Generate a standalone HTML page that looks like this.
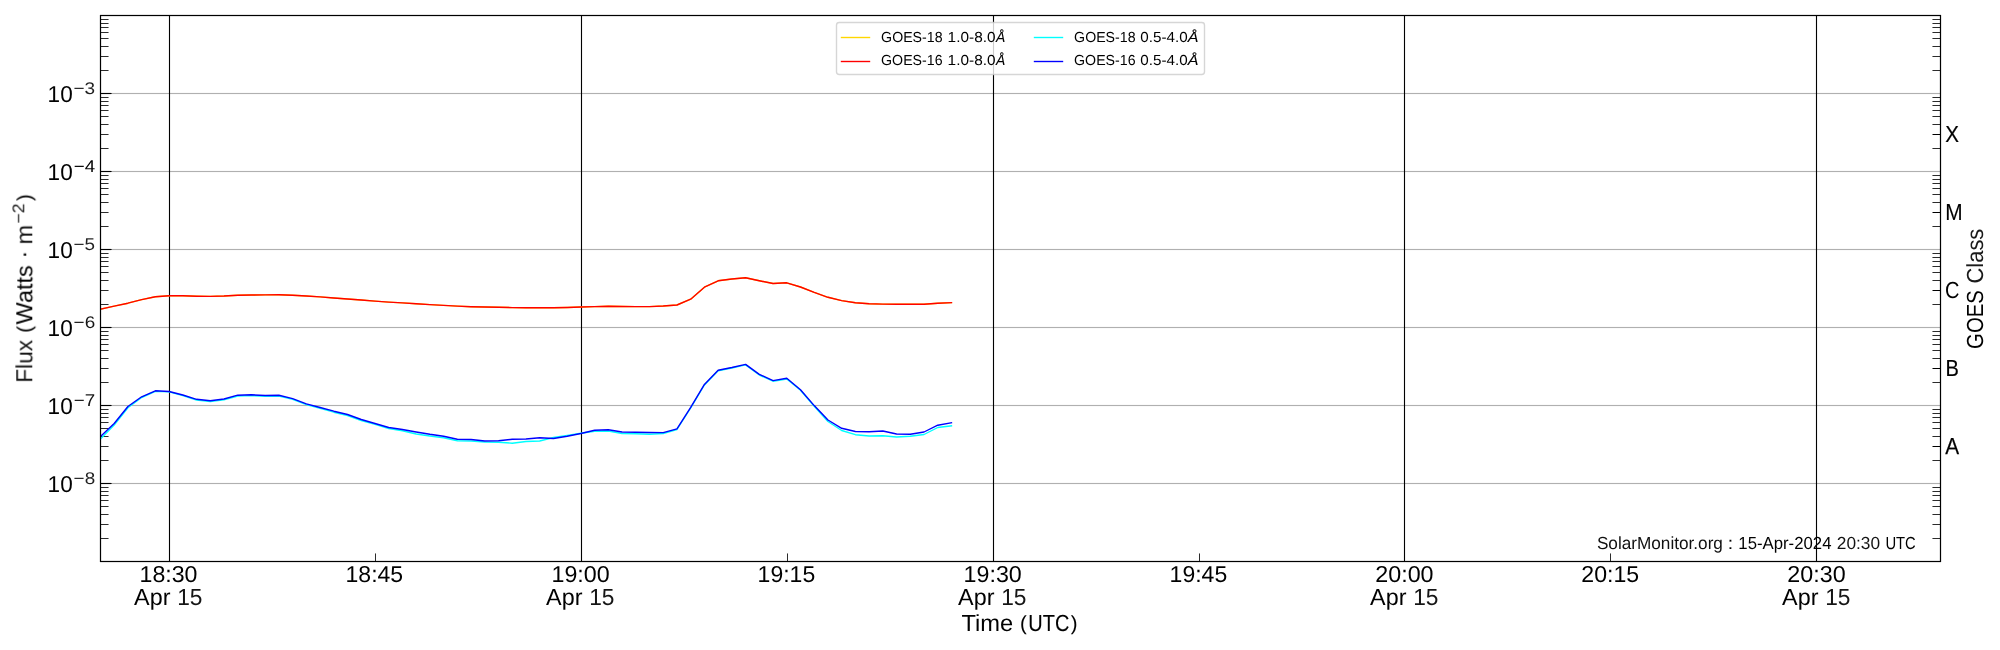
<!DOCTYPE html>
<html lang="en">
<head>
<meta charset="utf-8">
<title>GOES X-ray Flux</title>
<style>
html,body{margin:0;padding:0;background:#fff;}
body{width:2000px;height:650px;overflow:hidden;}
svg{display:block;}
text{font-family:"Liberation Sans",sans-serif;fill:#000;white-space:pre;text-rendering:geometricPrecision;}
.it{font-style:italic;}
</style>
</head>
<body>
<svg width="2000" height="650" viewBox="0 0 2000 650">
<rect x="0" y="0" width="2000" height="650" fill="#fff"/>
<g stroke="#b0b0b0" stroke-width="1.11" fill="none">
<path d="M100 93.5H1941"/>
<path d="M100 171.5H1941"/>
<path d="M100 249.5H1941"/>
<path d="M100 327.5H1941"/>
<path d="M100 405.5H1941"/>
<path d="M100 483.5H1941"/>
</g>
<g fill="#b0b0b0" fill-opacity="0.063">
<rect x="100" y="92" width="1841" height="1"/><rect x="100" y="94" width="1841" height="1"/>
<rect x="100" y="170" width="1841" height="1"/><rect x="100" y="172" width="1841" height="1"/>
<rect x="100" y="248" width="1841" height="1"/><rect x="100" y="250" width="1841" height="1"/>
<rect x="100" y="326" width="1841" height="1"/><rect x="100" y="328" width="1841" height="1"/>
<rect x="100" y="404" width="1841" height="1"/><rect x="100" y="406" width="1841" height="1"/>
<rect x="100" y="482" width="1841" height="1"/><rect x="100" y="484" width="1841" height="1"/>
</g>
<g stroke="#000" stroke-width="1.11" fill="none">
<path d="M169.5 15V562"/>
<path d="M581.5 15V562"/>
<path d="M993.5 15V562"/>
<path d="M1404.5 15V562"/>
<path d="M1816.5 15V562"/>
</g>
<g stroke="#000" stroke-width="1.11" fill="none">
<path d="M100.5 93.5H111.55"/>
<path d="M100.5 171.5H111.55"/>
<path d="M100.5 249.5H111.55"/>
<path d="M100.5 327.5H111.55"/>
<path d="M100.5 405.5H111.55"/>
<path d="M100.5 483.5H111.55"/>
</g>
<g stroke="#000" stroke-width="0.83" fill="none">
<path d="M100.5 538.5H108.55M1932.45 538.5H1940.5M100.5 524.5H108.55M1932.45 524.5H1940.5M100.5 514.5H108.55M1932.45 514.5H1940.5M100.5 506.5H108.55M1932.45 506.5H1940.5M100.5 500.5H108.55M1932.45 500.5H1940.5M100.5 495.5H108.55M1932.45 495.5H1940.5M100.5 491.5H108.55M1932.45 491.5H1940.5M100.5 487.5H108.55M1932.45 487.5H1940.5M100.5 460.5H108.55M1932.45 460.5H1940.5M100.5 446.5H108.55M100.5 436.5H108.55M1932.45 436.5H1940.5M100.5 428.5H108.55M1932.45 428.5H1940.5M100.5 422.5H108.55M1932.45 422.5H1940.5M100.5 417.5H108.55M1932.45 417.5H1940.5M100.5 413.5H108.55M1932.45 413.5H1940.5M100.5 409.5H108.55M1932.45 409.5H1940.5M100.5 382.5H108.55M1932.45 382.5H1940.5M100.5 368.5H108.55M100.5 358.5H108.55M1932.45 358.5H1940.5M100.5 350.5H108.55M1932.45 350.5H1940.5M100.5 344.5H108.55M1932.45 344.5H1940.5M100.5 339.5H108.55M1932.45 339.5H1940.5M100.5 335.5H108.55M1932.45 335.5H1940.5M100.5 331.5H108.55M1932.45 331.5H1940.5M100.5 304.5H108.55M1932.45 304.5H1940.5M100.5 290.5H108.55M100.5 280.5H108.55M1932.45 280.5H1940.5M100.5 272.5H108.55M1932.45 272.5H1940.5M100.5 266.5H108.55M1932.45 266.5H1940.5M100.5 261.5H108.55M1932.45 261.5H1940.5M100.5 257.5H108.55M1932.45 257.5H1940.5M100.5 253.5H108.55M1932.45 253.5H1940.5M100.5 226.5H108.55M1932.45 226.5H1940.5M100.5 212.5H108.55M100.5 202.5H108.55M1932.45 202.5H1940.5M100.5 194.5H108.55M1932.45 194.5H1940.5M100.5 188.5H108.55M1932.45 188.5H1940.5M100.5 183.5H108.55M1932.45 183.5H1940.5M100.5 179.5H108.55M1932.45 179.5H1940.5M100.5 175.5H108.55M1932.45 175.5H1940.5M100.5 148.5H108.55M1932.45 148.5H1940.5M100.5 134.5H108.55M100.5 124.5H108.55M1932.45 124.5H1940.5M100.5 116.5H108.55M1932.45 116.5H1940.5M100.5 110.5H108.55M1932.45 110.5H1940.5M100.5 105.5H108.55M1932.45 105.5H1940.5M100.5 101.5H108.55M1932.45 101.5H1940.5M100.5 97.5H108.55M1932.45 97.5H1940.5M100.5 70.5H108.55M1932.45 70.5H1940.5M100.5 56.5H108.55M1932.45 56.5H1940.5M100.5 46.5H108.55M1932.45 46.5H1940.5M100.5 38.5H108.55M1932.45 38.5H1940.5M100.5 32.5H108.55M1932.45 32.5H1940.5M100.5 27.5H108.55M1932.45 27.5H1940.5M100.5 23.5H108.55M1932.45 23.5H1940.5M100.5 19.5H108.55M1932.45 19.5H1940.5"/>
<path d="M375.5 553.45V561.5M787.5 553.45V561.5M1199.5 553.45V561.5M1610.5 553.45V561.5"/>
</g>
<g stroke="#000" stroke-width="1.11" fill="none">
<path d="M1932.5 446.5H1940.5M1932.5 368.5H1940.5M1932.5 290.5H1940.5M1932.5 212.5H1940.5M1932.5 134.5H1940.5"/>
</g>
<clipPath id="axclip"><rect x="100" y="15.25" width="1840" height="546"/></clipPath>
<g clip-path="url(#axclip)" fill="none" stroke-width="1.39" stroke-linejoin="round" stroke-linecap="square">
<path stroke="#ffd700" d="M100.46 309.1L114.18 306.1L127.91 303.2L141.64 299.6L155.36 296.8L169.09 295.7L182.81 295.8L196.54 296.2L210.27 296.4L223.99 296L237.72 295.2L251.45 295L265.17 294.9L278.9 294.7L292.62 295.2L306.35 296L320.08 296.9L333.8 298L347.53 299L361.26 300L374.98 301.1L388.71 302.1L402.43 302.9L416.16 303.7L429.89 304.6L443.61 305.4L457.34 306.1L471.07 306.7L484.79 307L498.52 307.3L512.24 307.6L525.97 307.7L539.7 307.7L553.42 307.7L567.15 307.5L580.88 307L594.6 306.6L608.33 306.3L622.05 306.5L635.78 306.6L649.51 306.6L663.23 306L676.96 305L690.69 299.2L704.41 287.2L718.14 280.8L731.86 279L745.59 277.8L759.32 280.8L773.04 283.5L786.77 282.8L800.49 287L814.22 292.4L827.95 297.3L841.67 300.6L855.4 302.7L869.13 303.7L882.85 304.1L896.58 304.3L910.3 304.3L924.03 304.3L937.76 303.3L951.48 302.7"/>
<path stroke="#ff0000" d="M100.46 309.1L114.18 306.1L127.91 303.2L141.64 299.6L155.36 296.8L169.09 295.7L182.81 295.8L196.54 296.2L210.27 296.4L223.99 296L237.72 295.2L251.45 295L265.17 294.9L278.9 294.7L292.62 295.2L306.35 296L320.08 296.9L333.8 298L347.53 299L361.26 300L374.98 301.1L388.71 302.1L402.43 302.9L416.16 303.7L429.89 304.6L443.61 305.4L457.34 306.1L471.07 306.7L484.79 307L498.52 307.3L512.24 307.6L525.97 307.7L539.7 307.7L553.42 307.7L567.15 307.5L580.88 307L594.6 306.6L608.33 306.3L622.05 306.5L635.78 306.6L649.51 306.6L663.23 306L676.96 305L690.69 299.2L704.41 287.2L718.14 280.8L731.86 279L745.59 277.8L759.32 280.8L773.04 283.5L786.77 282.8L800.49 287L814.22 292.4L827.95 297.3L841.67 300.6L855.4 302.7L869.13 303.7L882.85 304.1L896.58 304.3L910.3 304.3L924.03 304.3L937.76 303.3L951.48 302.7"/>
<path stroke="#00ffff" d="M100.46 439L114.18 425L127.91 407.8L141.64 397.5L155.36 391.4L169.09 391.9L182.81 395.6L196.54 400L210.27 401.5L223.99 399.8L237.72 396L251.45 395.6L265.17 396.3L278.9 396.1L292.62 399.4L306.35 404.6L320.08 408.3L333.8 412.2L347.53 415.5L361.26 420.5L374.98 424.3L388.71 428.5L402.43 430.8L416.16 434L429.89 436L443.61 437.8L457.34 440.8L471.07 441L484.79 442L498.52 442.2L512.24 443.2L525.97 441.5L539.7 441L553.42 437.5L567.15 435.5L580.88 433.3L594.6 431.2L608.33 431L622.05 433.5L635.78 433.8L649.51 434.2L663.23 433.5L676.96 429.5L690.69 408L704.41 385L718.14 370.8L731.86 368L745.59 364.9L759.32 375L773.04 381.2L786.77 379L800.49 390.3L814.22 406.3L827.95 421.5L841.67 430.5L855.4 434.7L869.13 436L882.85 435.8L896.58 437L910.3 436.2L924.03 434.5L937.76 427.5L951.48 425.8"/>
<path stroke="#0000ff" d="M100.46 436.5L114.18 423.5L127.91 406.5L141.64 396.8L155.36 390.8L169.09 391.5L182.81 395L196.54 399.3L210.27 400.7L223.99 399L237.72 395.2L251.45 394.8L265.17 395.5L278.9 395.3L292.62 398.6L306.35 403.8L320.08 407.5L333.8 411.2L347.53 414.5L361.26 419.5L374.98 423.5L388.71 427.5L402.43 429.5L416.16 432L429.89 434.3L443.61 436.2L457.34 439.2L471.07 439.5L484.79 441L498.52 440.8L512.24 439.3L525.97 439L539.7 437.8L553.42 438.5L567.15 436.3L580.88 433.5L594.6 430.3L608.33 429.8L622.05 432L635.78 432.2L649.51 432.5L663.23 432.6L676.96 428.8L690.69 407.4L704.41 384.4L718.14 370.2L731.86 367.5L745.59 364.4L759.32 374.4L773.04 380.6L786.77 378.3L800.49 389.7L814.22 405.6L827.95 420L841.67 428.3L855.4 431.5L869.13 431.7L882.85 431L896.58 434L910.3 434.2L924.03 432L937.76 425.2L951.48 422.8"/>
</g>
<path d="M100.5 15.5H1940.5V561.5H100.5Z" fill="none" stroke="#000" stroke-width="1.22" stroke-linejoin="miter"/>
<g fill="#000" fill-opacity="0.11"><rect x="100" y="14" width="1841" height="1"/><rect x="101" y="16" width="1839" height="1"/><rect x="101" y="560" width="1839" height="1"/><rect x="100" y="562" width="1841" height="1"/></g>
<rect x="836.5" y="22.5" width="368" height="52" rx="2.78" ry="2.78" fill="#fff" fill-opacity="0.8" stroke="#ccc" stroke-opacity="0.8" stroke-width="1.39"/>
<g fill="none" stroke-width="1.39">
<path stroke="#ffd700" d="M840.8 37.5H870.2"/>
<path stroke="#ff0000" d="M840.8 61.5H870.2"/>
<path stroke="#00ffff" d="M1033.8 37.5H1063.2"/>
<path stroke="#0000ff" d="M1033.8 61.5H1063.2"/>
</g>
<g opacity="0.999">
<text font-size="23.02"><tspan x="139.56" y="582.00" textLength="57.94" lengthAdjust="spacingAndGlyphs">18:30</tspan> <tspan x="134.10" y="605.00" font-size="23.26" textLength="36.33" lengthAdjust="spacingAndGlyphs">Apr</tspan> <tspan x="177.22" y="605.00" font-size="23.26" textLength="25.31" lengthAdjust="spacingAndGlyphs" fill-opacity="0.92">15</tspan></text>
<text font-size="23.02"><tspan x="551.52" y="582.00" textLength="58.18" lengthAdjust="spacingAndGlyphs">19:00</tspan> <tspan x="546.11" y="605.00" font-size="23.26" textLength="36.32" lengthAdjust="spacingAndGlyphs">Apr</tspan> <tspan x="589.22" y="605.00" font-size="23.26" textLength="25.31" lengthAdjust="spacingAndGlyphs" fill-opacity="0.92">15</tspan></text>
<text font-size="23.02"><tspan x="963.55" y="582.00" textLength="58.23" lengthAdjust="spacingAndGlyphs">19:30</tspan> <tspan x="958.11" y="605.00" font-size="23.26" textLength="36.32" lengthAdjust="spacingAndGlyphs">Apr</tspan> <tspan x="1001.22" y="605.00" font-size="23.26" textLength="25.31" lengthAdjust="spacingAndGlyphs" fill-opacity="0.92">15</tspan></text>
<text font-size="23.02"><tspan x="1375.30" y="582.00" textLength="58.29" lengthAdjust="spacingAndGlyphs">20:00</tspan> <tspan x="1370.10" y="605.00" font-size="23.26" textLength="36.31" lengthAdjust="spacingAndGlyphs">Apr</tspan> <tspan x="1413.22" y="605.00" font-size="23.26" textLength="25.31" lengthAdjust="spacingAndGlyphs" fill-opacity="0.92">15</tspan></text>
<text font-size="23.02"><tspan x="1787.35" y="582.00" textLength="58.30" lengthAdjust="spacingAndGlyphs">20:30</tspan> <tspan x="1782.10" y="605.00" font-size="23.26" textLength="36.33" lengthAdjust="spacingAndGlyphs">Apr</tspan> <tspan x="1825.22" y="605.00" font-size="23.26" textLength="25.31" lengthAdjust="spacingAndGlyphs" fill-opacity="0.92">15</tspan></text>
<text x="345.53" y="582.00" font-size="23.02" textLength="57.67" lengthAdjust="spacingAndGlyphs">18:45</text>
<text x="757.60" y="582.00" font-size="23.02" textLength="57.62" lengthAdjust="spacingAndGlyphs">19:15</text>
<text x="1169.60" y="582.00" font-size="23.02" textLength="57.62" lengthAdjust="spacingAndGlyphs">19:45</text>
<text x="1581.36" y="582.00" font-size="23.02" textLength="57.85" lengthAdjust="spacingAndGlyphs">20:15</text>
<text font-size="23.26"><tspan x="961.51" y="631.00" textLength="51.80" lengthAdjust="spacingAndGlyphs">Time</tspan> <tspan x="1020.04" y="630.00" font-size="20.30" stroke="#000" stroke-width="0.08">(</tspan><tspan x="1028.36" y="631.00" textLength="41.01" lengthAdjust="spacingAndGlyphs" stroke="#000" stroke-width="0.13">UTC</tspan><tspan x="1070.81" y="630.00" font-size="20.32" stroke="#000" stroke-width="0.08">)</tspan></text>
<text font-size="23.02"><tspan x="47.61" y="102.00" textLength="25.09" lengthAdjust="spacingAndGlyphs">10</tspan><tspan x="73.53" y="94.00" font-size="16.95" textLength="21.66" lengthAdjust="spacingAndGlyphs" fill-opacity="0.88">−3</tspan></text>
<text font-size="23.02"><tspan x="47.61" y="180.00" textLength="25.09" lengthAdjust="spacingAndGlyphs">10</tspan><tspan x="73.70" y="172.00" font-size="16.95" textLength="21.38" lengthAdjust="spacingAndGlyphs">−4</tspan></text>
<text font-size="23.02"><tspan x="47.61" y="258.00" textLength="25.09" lengthAdjust="spacingAndGlyphs">10</tspan><tspan x="73.61" y="250.00" font-size="16.95" textLength="21.49" lengthAdjust="spacingAndGlyphs" fill-opacity="0.88">−5</tspan></text>
<text font-size="23.02"><tspan x="47.61" y="336.00" textLength="25.09" lengthAdjust="spacingAndGlyphs">10</tspan><tspan x="73.60" y="328.00" font-size="16.95" textLength="21.55" lengthAdjust="spacingAndGlyphs" fill-opacity="0.92">−6</tspan></text>
<text font-size="23.02"><tspan x="47.61" y="414.00" textLength="25.09" lengthAdjust="spacingAndGlyphs">10</tspan><tspan x="73.70" y="406.00" font-size="16.95" textLength="21.39" lengthAdjust="spacingAndGlyphs" fill-opacity="0.93">−7</tspan></text>
<text font-size="23.02"><tspan x="47.61" y="492.00" textLength="25.09" lengthAdjust="spacingAndGlyphs">10</tspan><tspan x="73.63" y="484.00" font-size="16.95" textLength="21.48" lengthAdjust="spacingAndGlyphs" fill-opacity="0.88">−8</tspan></text>
<text font-size="23.26" transform="rotate(-90 32.00 382.72)"><tspan x="32.00" y="382.72" textLength="42.85" lengthAdjust="spacingAndGlyphs" fill-opacity="0.92">Flux</tspan> <tspan x="82.08" y="381.72" font-size="20.36" stroke="#000" stroke-width="0.06">(</tspan><tspan x="90.38" y="382.72" textLength="59.07" lengthAdjust="spacingAndGlyphs">Watts</tspan> <tspan x="156.26" y="381.72" stroke="#000" stroke-width="0.07">·</tspan> <tspan x="170.15" y="382.72" textLength="19.63" lengthAdjust="spacingAndGlyphs" fill-opacity="0.93">m</tspan><tspan x="191.32" y="374.72" font-size="16.95" textLength="20.04" lengthAdjust="spacingAndGlyphs" fill-opacity="0.91">−2</tspan><tspan x="213.70" y="381.72" font-size="20.30" stroke="#000" stroke-width="0.07">)</tspan></text>
<text x="1945.19" y="142.00" font-size="23.26" textLength="13.73" lengthAdjust="spacingAndGlyphs" stroke="#000" stroke-width="0.19">X</text>
<text x="1945.22" y="220.00" font-size="23.26" textLength="17.38" lengthAdjust="spacingAndGlyphs" stroke="#000" stroke-width="0.11">M</text>
<text x="1944.99" y="298.00" font-size="23.26" textLength="14.44" lengthAdjust="spacingAndGlyphs">C</text>
<text x="1945.51" y="376.00" font-size="23.26" textLength="13.35" lengthAdjust="spacingAndGlyphs" stroke="#000" stroke-width="0.21">B</text>
<text x="1945.23" y="454.00" font-size="23.26" textLength="13.87" lengthAdjust="spacingAndGlyphs" stroke="#000" stroke-width="0.25">A</text>
<text font-size="23.26" transform="rotate(-90 1983.00 348.90)"><tspan x="1983.00" y="348.90" textLength="58.73" lengthAdjust="spacingAndGlyphs">GOES</tspan> <tspan x="2048.41" y="348.90" textLength="54.80" lengthAdjust="spacingAndGlyphs" fill-opacity="0.90">Class</tspan></text>
<text font-size="14.53"><tspan x="881.11" y="42.00" textLength="61.41" lengthAdjust="spacingAndGlyphs">GOES-18</tspan> <tspan x="947.64" y="42.00" textLength="47.93" lengthAdjust="spacingAndGlyphs">1.0-8.0</tspan><tspan x="996.05" y="42.00" textLength="9.24" lengthAdjust="spacingAndGlyphs" class="it" stroke="#000" stroke-width="0.11">Å</tspan></text>
<text font-size="14.53"><tspan x="881.08" y="65.00" textLength="61.46" lengthAdjust="spacingAndGlyphs">GOES-16</tspan> <tspan x="947.64" y="65.00" textLength="47.93" lengthAdjust="spacingAndGlyphs">1.0-8.0</tspan><tspan x="996.05" y="65.00" textLength="9.24" lengthAdjust="spacingAndGlyphs" class="it" stroke="#000" stroke-width="0.11">Å</tspan></text>
<text font-size="14.53"><tspan x="1074.11" y="42.00" textLength="61.41" lengthAdjust="spacingAndGlyphs">GOES-18</tspan> <tspan x="1140.28" y="42.00" textLength="47.36" lengthAdjust="spacingAndGlyphs">0.5-4.0</tspan><tspan x="1187.66" y="42.00" textLength="10.74" lengthAdjust="spacingAndGlyphs" class="it" stroke="#000" stroke-width="0.08">Å</tspan></text>
<text font-size="14.53"><tspan x="1074.08" y="65.00" textLength="61.46" lengthAdjust="spacingAndGlyphs">GOES-16</tspan> <tspan x="1140.28" y="65.00" textLength="47.36" lengthAdjust="spacingAndGlyphs">0.5-4.0</tspan><tspan x="1187.66" y="65.00" textLength="10.74" lengthAdjust="spacingAndGlyphs" class="it" stroke="#000" stroke-width="0.08">Å</tspan></text>
<text font-size="17.44"><tspan x="1596.88" y="549.00" textLength="126.03" lengthAdjust="spacingAndGlyphs" fill-opacity="0.94">SolarMonitor.org</tspan> <tspan x="1728.04" y="549.00" stroke="#000" stroke-width="0.16">:</tspan> <tspan x="1738.32" y="549.00" textLength="93.16" lengthAdjust="spacingAndGlyphs">15-Apr-2024</tspan> <tspan x="1836.81" y="549.00" textLength="43.31" lengthAdjust="spacingAndGlyphs" fill-opacity="0.93">20:30</tspan> <tspan x="1885.38" y="549.00" textLength="30.42" lengthAdjust="spacingAndGlyphs">UTC</tspan></text>
</g>
</svg>
</body>
</html>
